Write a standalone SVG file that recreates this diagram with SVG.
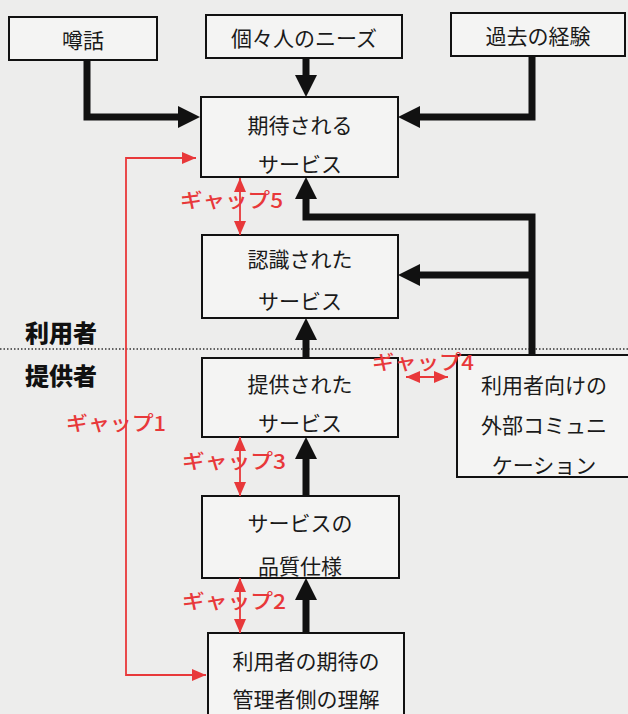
<svg xmlns="http://www.w3.org/2000/svg" width="628" height="714" viewBox="0 0 628 714">
<style>
.box{fill:#f4f4f3;stroke:#111;stroke-width:2}
.t{font-family:"Noto Sans CJK JP","Noto Sans",sans-serif;font-size:21px;fill:#1a1a1a;text-anchor:middle;dominant-baseline:central}
.g{font-family:"Noto Sans CJK JP","Noto Sans",sans-serif;font-size:20px;font-weight:500;fill:#e8383a;dominant-baseline:central}
.side{font-family:"Noto Sans CJK JP",sans-serif;font-size:24px;font-weight:900;fill:#111;dominant-baseline:central}
.bk{fill:none;stroke:#111;stroke-width:7;stroke-linejoin:miter}
.rd{fill:none;stroke:#e8383a;stroke-width:1.8}
</style>
<defs>
<marker id="ab" viewBox="0 0 22 22" markerWidth="22" markerHeight="22" refX="0" refY="11" orient="auto" markerUnits="userSpaceOnUse"><path d="M0,0 L22,11 L0,22 z" fill="#111"/></marker>
<marker id="ar" viewBox="0 0 14 12" markerWidth="14" markerHeight="12" refX="14" refY="6" orient="auto-start-reverse" markerUnits="userSpaceOnUse"><path d="M0,0 L14,6 L0,12 z" fill="#e8383a"/></marker>
</defs>
<rect x="0" y="0" width="628" height="714" fill="#ededec"/>
<line x1="0" y1="349" x2="628" y2="349" stroke="#333" stroke-width="1.5" stroke-dasharray="1.5 2"/>
<text class="side" x="25" y="331">利用者</text>
<text class="side" x="25" y="374">提供者</text>
<g id="n-rumor"><rect class="box" x="9" y="17" width="148" height="43"/><text class="t" x="83" y="39">噂話</text></g>
<g id="n-needs"><rect class="box" x="206" y="15" width="196" height="43"/><text class="t" x="304" y="37">個々人のニーズ</text></g>
<g id="n-past"><rect class="box" x="451" y="13" width="174" height="43"/><text class="t" x="538" y="35">過去の経験</text></g>
<g id="n-expected"><rect class="box" x="201" y="97" width="197" height="80"/><text class="t" x="300" y="124">期待される</text><text class="t" x="300" y="163">サービス</text></g>
<g id="n-perceived"><rect class="box" x="202" y="235" width="196" height="83"/><text class="t" x="300" y="258">認識された</text><text class="t" x="300" y="300">サービス</text></g>
<g id="n-delivered"><rect class="box" x="202" y="358" width="196" height="79"/><text class="t" x="300" y="383">提供された</text><text class="t" x="300" y="422">サービス</text></g>
<g id="n-external"><rect class="box" x="457" y="355" width="180" height="122"/><text class="t" x="544" y="384">利用者向けの</text><text class="t" x="544" y="424">外部コミュニ</text><text class="t" x="544" y="464">ケーション</text></g>
<g id="n-spec"><rect class="box" x="202" y="496" width="197" height="82"/><text class="t" x="300" y="522">サービスの</text><text class="t" x="300" y="565">品質仕様</text></g>
<g id="n-mgmt"><rect class="box" x="208" y="633" width="196" height="90"/><text class="t" x="306" y="660">利用者の期待の</text><text class="t" x="306" y="698">管理者側の理解</text></g>
<g id="connectors">
<path class="bk" d="M87,60 V117 H178" marker-end="url(#ab)"/>
<path class="bk" d="M306,58 V75" marker-end="url(#ab)"/>
<path class="bk" d="M532,56 V117 H420" marker-end="url(#ab)"/>
<path class="bk" d="M532,355 V217 H306 V199" marker-end="url(#ab)"/>
<path class="bk" d="M532,275 H420" marker-end="url(#ab)"/>
<path class="bk" d="M306,358 V340" marker-end="url(#ab)"/>
<path class="bk" d="M306,496 V459" marker-end="url(#ab)"/>
<path class="bk" d="M306,633 V600" marker-end="url(#ab)"/>
<path class="rd" d="M196,158 H126 V675 H206" marker-start="url(#ar)" marker-end="url(#ar)"/>
<path class="rd" d="M240,178 V235" marker-start="url(#ar)" marker-end="url(#ar)"/>
<path class="rd" d="M240,437 V496" marker-start="url(#ar)" marker-end="url(#ar)"/>
<path class="rd" d="M240,578 V633" marker-start="url(#ar)" marker-end="url(#ar)"/>
<path class="rd" d="M406,377 H448" marker-start="url(#ar)" marker-end="url(#ar)"/>
<text class="g" x="180" y="199" textLength="103" lengthAdjust="spacingAndGlyphs">ギャップ5</text>
<text class="g" x="372" y="361" textLength="102" lengthAdjust="spacingAndGlyphs">ギャップ4</text>
<text class="g" x="66" y="422" textLength="100" lengthAdjust="spacingAndGlyphs">ギャップ1</text>
<text class="g" x="182" y="460" textLength="104" lengthAdjust="spacingAndGlyphs">ギャップ3</text>
<text class="g" x="182" y="600" textLength="104" lengthAdjust="spacingAndGlyphs">ギャップ2</text>
</g>
</svg>
